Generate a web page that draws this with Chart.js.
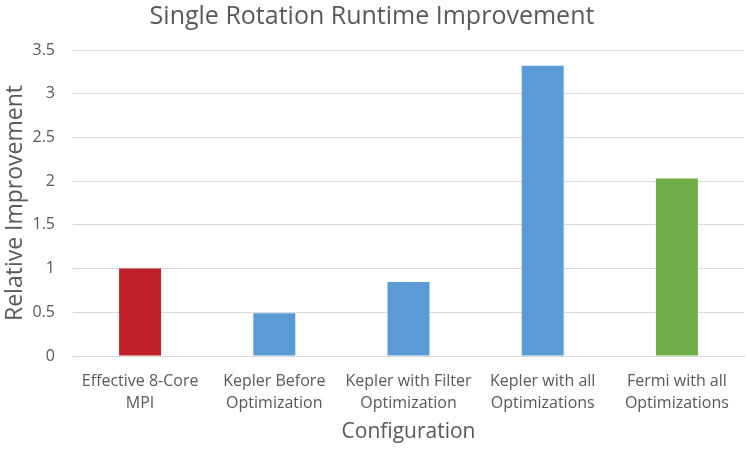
<!DOCTYPE html>
<html>
<head>
<meta charset="utf-8">
<script src="https://cdn.jsdelivr.net/npm/chart.js@4/dist/chart.umd.min.js"></script>
<style>
html,body{margin:0;padding:0;background:#fff;}
#wrap{width:750px;height:450px;}
</style>
</head>
<body>
<div id="wrap"><canvas id="c" width="750" height="450"></canvas></div>
<script>
const categories = [
  ["Effective 8-Core", "MPI"],
  ["Kepler Before", "Optimization"],
  ["Kepler with Filter", "Optimization"],
  ["Kepler with all", "Optimizations"],
  ["Fermi with all", "Optimizations"]
];
const improvement = [1.0, 0.49, 0.845, 3.32, 2.03];
const barColors = ["#C0202A", "#5B9BD5", "#5B9BD5", "#5B9BD5", "#70AD47"];
const yTicks = [0, 0.5, 1, 1.5, 2, 2.5, 3, 3.5];

const FONT = "'Open Sans', 'Liberation Sans', sans-serif";
const GRAY = "#595959";

new Chart(document.getElementById('c'), {
  type: 'bar',
  data: {
    labels: categories,
    datasets: [{
      data: improvement,
      backgroundColor: barColors,
      borderWidth: 0,
      barPercentage: 0.313,
      categoryPercentage: 1.0
    }]
  },
  options: {
    responsive: false,
    animation: false,
    devicePixelRatio: 1,
    layout: { padding: { left: 0, right: 6, top: 0, bottom: 5 } },
    plugins: {
      legend: { display: false },
      tooltip: { enabled: false },
      title: {
        display: true,
        text: 'Single Rotation Runtime Improvement',
        color: GRAY,
        font: { family: FONT, size: 25, weight: 'normal', lineHeight: 1.2 },
        padding: { top: 2, bottom: 18 }
      }
    },
    scales: {
      x: {
        grid: { display: false, drawTicks: false },
        border: { display: true, color: '#d9d9d9' },
        afterFit: (scale) => { scale.height = 89; },
        ticks: {
          color: GRAY,
          font: { family: FONT, size: 16, lineHeight: 1.38 },
          maxRotation: 0,
          autoSkip: false,
          padding: 14
        },
        title: {
          display: true,
          text: 'Configuration',
          color: GRAY,
          font: { family: FONT, size: 21, lineHeight: 1.2 },
          padding: { top: 5, bottom: 0 }
        }
      },
      y: {
        min: 0,
        max: 3.5,
        afterBuildTicks: (axis) => { axis.ticks = yTicks.map(v => ({ value: v })); },
        afterFit: (scale) => { scale.width = 73; },
        grid: { color: '#d9d9d9', drawTicks: false },
        border: { display: false },
        ticks: {
          color: GRAY,
          font: { family: FONT, size: 16 },
          padding: 18,
          callback: (v) => String(v)
        },
        title: {
          display: true,
          text: 'Relative Improvement',
          color: GRAY,
          font: { family: FONT, size: 23, lineHeight: 1.2 },
          padding: { top: 2, bottom: 3 }
        }
      }
    }
  }
});
</script>
</body>
</html>
